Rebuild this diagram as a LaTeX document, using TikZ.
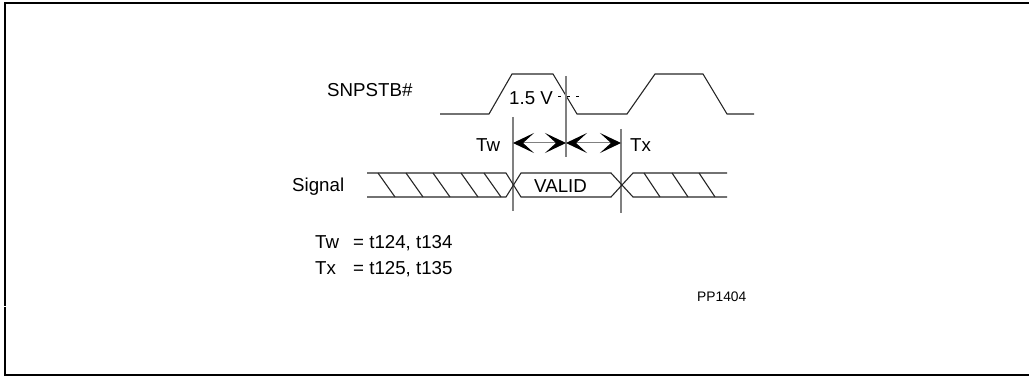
\documentclass[tikz,border=0pt]{standalone}
\usepackage{fontspec}
\setmainfont{Liberation Sans}
\usetikzlibrary{arrows.meta}

\begin{document}
\begin{tikzpicture}[x=1pt, y=-1pt,
    every node/.style={inner sep=0pt, font=\fontsize{18.7}{22}\selectfont},
    wave/.style={line width=1.1pt, black!85},
    marker/.style={line width=1.2pt, black!50},
    span/.style={line width=1pt, black!50, {Stealth[length=21pt,width=20pt,inset=11pt,black]}-{Stealth[length=21pt,width=20pt,inset=11pt,black]}}]
    \useasboundingbox (0,0) rectangle (1029,377);
    % frame, open on the right
    \coordinate (0) at (1029,3);
    \coordinate (1) at (5,3);
    \coordinate (2) at (5,305.5);
    \coordinate (3) at (5,306.5);
    \coordinate (4) at (5,374.5);
    \coordinate (5) at (1029,374.5);
        \draw[line width=2pt] (0) -- (1) -- (2);
        \draw[line width=2pt] (3) -- (4) -- (5);
    % strobe
    \coordinate (s0) at (440,114);
    \coordinate (s1) at (489,114);
    \coordinate (s2) at (512,74);
    \coordinate (s3) at (553,74);
    \coordinate (s4) at (577,114);
    \coordinate (s5) at (627,114);
    \coordinate (s6) at (655,74);
    \coordinate (s7) at (703,74);
    \coordinate (s8) at (727,114);
    \coordinate (s9) at (754,114);
        \draw[wave] (s0) -- (s1) -- (s2) -- (s3) -- (s4) -- (s5) -- (s6) -- (s7) -- (s8) -- (s9);
    \coordinate (d0) at (558,96);
    \coordinate (d1) at (579,96);
        \draw[line width=0.7pt, dash pattern=on 3pt off 6pt] (d0) -- (d1);
    % markers
    \coordinate (m0) at (513,117);
    \coordinate (m1) at (513,211);
    \coordinate (m2) at (566,76);
    \coordinate (m3) at (566,157);
    \coordinate (m4) at (621,129);
    \coordinate (m5) at (621,213);
        \draw[marker] (m0) -- (m1);
        \draw[marker] (m2) -- (m3);
        \draw[marker] (m4) -- (m5);
    \coordinate (a0) at (513,143);
    \coordinate (a1) at (566,143);
    \coordinate (a2) at (621,143);
        \draw[span] (a0) -- (a1);
        \draw[span] (a1) -- (a2);
    % signal
    \coordinate (b0) at (367,173);
    \coordinate (b1) at (506,173);
    \coordinate (b2) at (521,197);
    \coordinate (b3) at (611,197);
    \coordinate (b4) at (633,173);
    \coordinate (b5) at (727,173);
    \coordinate (c0) at (367,197);
    \coordinate (c1) at (506,197);
    \coordinate (c2) at (521,173);
    \coordinate (c3) at (611,173);
    \coordinate (c4) at (633,197);
    \coordinate (c5) at (727,197);
        \draw[wave] (b0) -- (b1) -- (b2) -- (b3) -- (b4) -- (b5);
        \draw[wave] (c0) -- (c1) -- (c2) -- (c3) -- (c4) -- (c5);
    % hatching
        \draw[wave] (378,173) -- (395,197);
        \draw[wave] (406,173) -- (423,197);
        \draw[wave] (433,173) -- (450,197);
        \draw[wave] (461,173) -- (478,197);
        \draw[wave] (484,173) -- (501,197);
        \draw[wave] (644,173) -- (660,197);
        \draw[wave] (672,173) -- (688,197);
        \draw[wave] (699,173) -- (715,197);
    % labels
    \node[anchor=base west] (snpstb) at (327,97) {SNPSTB\#};
    \node[anchor=base west] (level) at (509,105) {1.5 V};
    \node[anchor=base west] (tw) at (476,152) {Tw};
    \node[anchor=base west] (tx) at (630,152) {Tx};
    \node[anchor=base west] (signal) at (292,192) {Signal};
    \node[anchor=base west] (valid) at (534,193) {VALID};
    \node[anchor=base west] (twdef) at (315,248) {Tw};
    \node[anchor=base west] (twval) at (353,248) {= t124, t134};
    \node[anchor=base west] (txdef) at (315,274) {Tx};
    \node[anchor=base west] (txval) at (353,274) {= t125, t135};
    \node[anchor=base west, font=\fontsize{13.8}{16}\selectfont] (pp) at (697,301) {PP1404};
\end{tikzpicture}
\end{document}
